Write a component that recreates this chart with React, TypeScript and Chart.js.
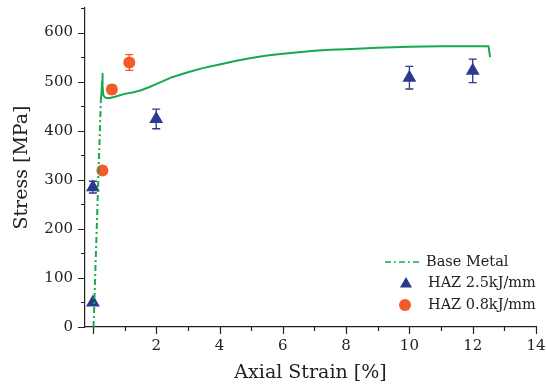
import React, { useEffect, useRef } from "react";
import { Chart, registerables } from "chart.js";

Chart.register(...registerables);

// Base metal stress-strain curve
const baseStrain = [0.02, 0.06, 0.10, 0.14, 0.18, 0.22, 0.25, 0.27, 0.29, 0.30, 0.31, 0.33, 0.40, 0.50, 0.70, 1.0, 1.25, 1.5, 1.75, 2.0, 2.25, 2.5, 2.75, 3.0, 3.5, 4.0, 4.5, 5.0, 5.5, 6.0, 6.5, 7.0, 7.5, 8.0, 9.0, 10.0, 11.0, 12.0, 12.5, 12.55];
const baseStress = [0, 80, 160, 240, 320, 400, 460, 475, 500, 516, 490, 472, 467, 466, 469, 475, 478, 482, 488, 495, 502, 509, 514, 519, 528, 535, 542, 548, 553, 557, 560, 563, 565, 566, 569, 571, 572, 572, 572, 550];

// HAZ 2.5 kJ/mm
const haz25Strain = [0, 0, 2, 10, 12];
const haz25Stress = [50, 285, 424, 508, 522];
const haz25Err = [0, 12, 20, 23, 24];

// HAZ 0.8 kJ/mm
const haz08Strain = [0.3, 0.6, 1.15];
const haz08Stress = [319, 484, 539];
const haz08Err = [0, 9, 16];

const seriesLabels = ["Base Metal", "HAZ 2.5kJ/mm", "HAZ 0.8kJ/mm"];

const GREEN = "#19a84e";
const NAVY = "#2b3990";
const ORANGE = "#f15a29";
const FONT = "DejaVu Serif";
const DASH_END = 6;

function drawTriangle(ctx: CanvasRenderingContext2D, x: number, y: number, r: number) {
  ctx.beginPath();
  ctx.moveTo(x, y - r);
  ctx.lineTo(x + r * 0.866, y + r * 0.5);
  ctx.lineTo(x - r * 0.866, y + r * 0.5);
  ctx.closePath();
  ctx.fill();
}

const decorPlugin = {
  id: "decor",
  beforeDatasetsDraw(chart: any) {
    const ctx = chart.ctx as CanvasRenderingContext2D;
    const xs = chart.scales.x;
    const ys = chart.scales.y;
    const groups = [
      { sx: haz25Strain, sy: haz25Stress, se: haz25Err, color: NAVY },
      { sx: haz08Strain, sy: haz08Stress, se: haz08Err, color: ORANGE },
    ];
    ctx.save();
    ctx.lineWidth = 1.3;
    for (const g of groups) {
      ctx.strokeStyle = g.color;
      g.sx.forEach((xv, i) => {
        const e = g.se[i];
        if (!e) return;
        const px = xs.getPixelForValue(xv);
        const top = ys.getPixelForValue(g.sy[i] + e);
        const bot = ys.getPixelForValue(g.sy[i] - e);
        ctx.beginPath();
        ctx.moveTo(px, top);
        ctx.lineTo(px, bot);
        ctx.moveTo(px - 4, top);
        ctx.lineTo(px + 4, top);
        ctx.moveTo(px - 4, bot);
        ctx.lineTo(px + 4, bot);
        ctx.stroke();
      });
    }
    ctx.restore();
  },
  afterDraw(chart: any) {
    const ctx = chart.ctx as CanvasRenderingContext2D;
    const xs = chart.scales.x;
    const ys = chart.scales.y;
    const area = chart.chartArea;
    ctx.save();
    ctx.strokeStyle = "#222";
    ctx.lineWidth = 1.2;
    ctx.beginPath();
    for (let v = 0; v <= 14; v += 1) {
      const px = Math.round(xs.getPixelForValue(v)) + 0.5;
      const len = v % 2 === 0 ? 7 : 4;
      ctx.moveTo(px, area.bottom);
      ctx.lineTo(px, area.bottom + len);
    }
    for (let v = 0; v <= 650; v += 50) {
      const py = Math.round(ys.getPixelForValue(v)) + 0.5;
      const len = v % 100 === 0 ? 7 : 4;
      ctx.moveTo(area.left, py);
      ctx.lineTo(area.left - len, py);
    }
    ctx.stroke();

    // legend
    const lx = area.right - 151;
    const ly = area.bottom - 65;
    ctx.strokeStyle = GREEN;
    ctx.lineWidth = 1.5;
    ctx.setLineDash([6, 3, 2, 3]);
    ctx.beginPath();
    ctx.moveTo(lx, ly);
    ctx.lineTo(lx + 36, ly);
    ctx.stroke();
    ctx.setLineDash([]);
    ctx.fillStyle = NAVY;
    drawTriangle(ctx, lx + 21, ly + 22, 7);
    ctx.fillStyle = ORANGE;
    ctx.beginPath();
    ctx.arc(lx + 20, ly + 43, 6, 0, Math.PI * 2);
    ctx.fill();
    ctx.fillStyle = "#222";
    ctx.font = `14.5px "${FONT}"`;
    ctx.textBaseline = "middle";
    ctx.textAlign = "left";
    ctx.fillText(seriesLabels[0], lx + 41, ly);
    ctx.fillText(seriesLabels[1], lx + 43, ly + 21);
    ctx.fillText(seriesLabels[2], lx + 43, ly + 43);
    ctx.restore();
  },
};

export default function App() {
  const ref = useRef<HTMLCanvasElement | null>(null);
  useEffect(() => {
    if (!ref.current) return;
    const chart = new Chart(ref.current, {
      type: "scatter",
      data: {
        datasets: [
          {
            label: seriesLabels[0],
            data: baseStrain.map((x, i) => ({ x, y: baseStress[i] })),
            showLine: true,
            borderColor: GREEN,
            borderWidth: 2,
            pointRadius: 0,
            borderJoinStyle: "round",
            segment: {
              borderDash: (c: any) => (c.p0DataIndex < DASH_END ? [6, 3, 2, 3] : undefined),
            },
          } as any,
          {
            label: seriesLabels[1],
            data: haz25Strain.map((x, i) => ({ x, y: haz25Stress[i] })),
            pointStyle: "triangle",
            pointRadius: 8,
            backgroundColor: NAVY,
            borderColor: NAVY,
            borderWidth: 0,
          },
          {
            label: seriesLabels[2],
            data: haz08Strain.map((x, i) => ({ x, y: haz08Stress[i] })),
            pointStyle: "circle",
            pointRadius: 6,
            backgroundColor: ORANGE,
            borderColor: ORANGE,
            borderWidth: 0,
          },
        ],
      },
      options: {
        animation: false,
        responsive: false,
        events: [],
        layout: { padding: { left: 0, top: 8, right: 10, bottom: 0 } },
        plugins: { legend: { display: false }, tooltip: { enabled: false } },
        scales: {
          x: {
            type: "linear",
            min: -0.25,
            max: 14,
            afterFit: (s: any) => {
              s.height = 62;
              s.paddingLeft = 0;
              s.paddingRight = 0;
            },
            border: { display: true, color: "#222", width: 1.2 },
            grid: { display: true, drawOnChartArea: false, drawTicks: true, tickLength: 7, color: "rgba(0,0,0,0)" },
            ticks: {
              stepSize: 1,
              autoSkip: false,
              maxRotation: 0,
              padding: 3,
              color: "#222",
              font: { family: FONT, size: 15 },
              callback: (v: any) => (Number(v) % 2 === 0 ? String(v) : ""),
            },
            title: {
              display: true,
              text: "Axial Strain [%]",
              color: "#222",
              font: { family: FONT, size: 19 },
              padding: { top: 0, bottom: 5 },
            },
          },
          y: {
            type: "linear",
            min: 0,
            max: 650,
            afterFit: (s: any) => {
              s.width = 85;
              s.paddingTop = 0;
              s.paddingBottom = 0;
            },
            border: { display: true, color: "#222", width: 1.2 },
            grid: { display: true, drawOnChartArea: false, drawTicks: true, tickLength: 7, color: "rgba(0,0,0,0)" },
            ticks: {
              stepSize: 50,
              autoSkip: false,
              padding: 5,
              color: "#222",
              font: { family: FONT, size: 15 },
              callback: (v: any) => (Number(v) % 100 === 0 ? String(v) : ""),
            },
            title: {
              display: true,
              text: "Stress [MPa]",
              color: "#222",
              font: { family: FONT, size: 19 },
              padding: { top: 11, bottom: 0 },
            },
          },
        },
      },
      plugins: [decorPlugin],
    });
    return () => chart.destroy();
  }, []);
  return (
    <div style={{ position: "absolute", left: 0, top: 0, width: 546, height: 389, background: "#fff" }}>
      <canvas ref={ref} width={546} height={389} />
    </div>
  );
}
